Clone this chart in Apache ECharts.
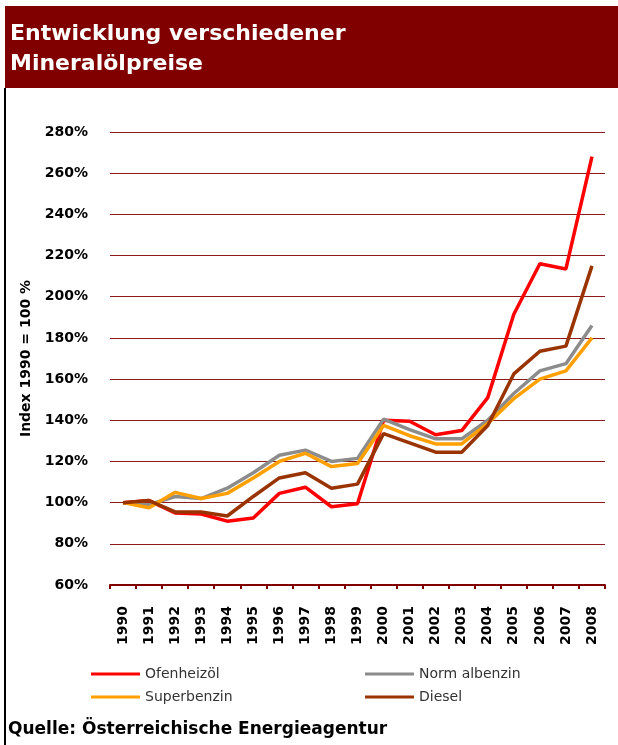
<!DOCTYPE html>
<html>
<head>
<meta charset="utf-8">
<script src="https://cdn.jsdelivr.net/npm/echarts@6/dist/echarts.min.js"></script>
<style>
  html, body { margin: 0; padding: 0; background: #fff; }
  #chart { width: 618px; height: 745px; }
</style>
</head>
<body>
<div id="chart"></div>
<script>
// Jahre und Indexwerte (1990 = 100 %)
const years = ['1990', '1991', '1992', '1993', '1994', '1995', '1996', '1997', '1998', '1999',
  '2000', '2001', '2002', '2003', '2004', '2005', '2006', '2007', '2008']
const ofenheizoel = [100, 101, 95, 94.5, 91, 92.5, 104.5, 107.5, 98, 99.5, 140, 139.5, 133, 135, 151, 191.5, 216, 213.5, 268]
const normalbenzin = [100, 99, 103, 102, 107, 114.5, 123, 125.5, 120, 121.5, 140.5, 135.5, 131, 131, 140, 153, 164, 167.5, 186]
const superbenzin = [100, 97.5, 105, 102, 104.5, 112, 120, 124, 117.5, 119, 137.5, 132.5, 128.5, 128.5, 138.5, 150.5, 160, 164, 180]
const diesel = [100, 101, 95.5, 95.5, 93.5, 103, 112, 114.5, 107, 109, 133.5, 129, 124.5, 124.5, 137.5, 162.5, 173.5, 176, 215]

const darkRed = '#800000'
const chart = echarts.init(document.getElementById('chart'))

const lineSeries = (name, data, color) => ({
  name,
  type: 'line',
  data,
  symbol: 'none',
  lineStyle: { width: 3.5, color },
  itemStyle: { color },
  animation: false
})

const legendBase = {
  orient: 'vertical',
  top: 661,
  icon: 'rect',
  itemWidth: 49,
  itemHeight: 3,
  itemGap: 7,
  textStyle: { fontFamily: 'DejaVu Sans', fontSize: 14, color: '#333', lineHeight: 16 }
}

const option = {
  backgroundColor: '#fff',
  graphic: [
    // Titelbalken
    { type: 'rect', shape: { x: 5, y: 6, width: 613, height: 82 }, style: { fill: darkRed }, z: 0 },
    // linke Randlinie
    { type: 'rect', shape: { x: 4, y: 88, width: 2, height: 657 }, style: { fill: '#000' } },
    {
      type: 'text', left: 8, top: 721,
      style: {
        text: 'Quelle: Österreichische Energieagentur',
        font: 'bold 17px "DejaVu Sans"', fill: '#000'
      }
    }
  ],
  title: {
    text: 'Entwicklung verschiedener\nMineralölpreise',
    left: 5,
    top: 14,
    textStyle: {
      color: '#fff',
      fontFamily: 'DejaVu Sans',
      fontWeight: 'bold',
      fontSize: 22,
      lineHeight: 30
    }
  },
  legend: [
    { ...legendBase, left: 86, data: ['Ofenheizöl', 'Superbenzin'] },
    { ...legendBase, left: 360, data: ['Norm albenzin', 'Diesel'] }
  ],
  grid: { left: 110, right: 13, top: 132, bottom: 160 },
  xAxis: {
    type: 'category',
    data: years,
    boundaryGap: true,
    axisLine: { lineStyle: { color: darkRed, width: 2 } },
    axisTick: { show: true, length: 4, lineStyle: { color: darkRed, width: 2 } },
    axisLabel: {
      rotate: 90,
      margin: 21,
      interval: 0,
      color: '#000',
      fontFamily: 'DejaVu Sans',
      fontWeight: 'bold',
      fontSize: 14
    }
  },
  yAxis: {
    type: 'value',
    min: 60,
    max: 280,
    interval: 20,
    name: 'Index 1990 = 100 %',
    nameLocation: 'middle',
    nameGap: 66,
    nameTextStyle: { color: '#000', fontFamily: 'DejaVu Sans', fontWeight: 'bold', fontSize: 14 },
    axisLine: { show: false },
    axisTick: { show: false },
    splitLine: { lineStyle: { color: '#8b1a1a', width: 1 } },
    axisLabel: {
      margin: 22,
      color: '#000',
      fontFamily: 'DejaVu Sans',
      fontWeight: 'bold',
      fontSize: 14,
      formatter: v => v + '%'
    }
  },
  series: [
    lineSeries('Ofenheizöl', ofenheizoel, '#ff0000'),
    lineSeries('Norm albenzin', normalbenzin, '#8c8c8c'),
    lineSeries('Superbenzin', superbenzin, '#ffa000'),
    lineSeries('Diesel', diesel, '#993300')
  ]
}

chart.setOption(option)
window.addEventListener('resize', () => chart.resize())
</script>
</body>
</html>
